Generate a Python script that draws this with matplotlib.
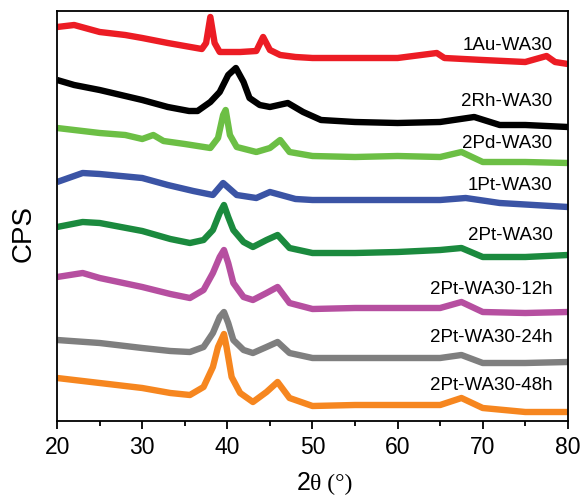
import matplotlib.pyplot as plt
from matplotlib.ticker import MultipleLocator

# XRD-Muster (2θ in Grad, Intensität in willkürlichen Einheiten, bereits versetzt)
au_x = [20, 22, 25, 28, 30, 33, 35, 37, 37.5, 38.0, 38.5, 39.1, 40, 41.5, 43.4, 44.2, 45, 46.2, 48, 50, 55, 60, 64.6, 65.5, 70, 75, 77.5, 78.5, 80]
au_y = [394, 396, 389, 386, 383, 378, 375, 372, 378, 404, 378, 369, 369, 369, 370, 384, 371, 366, 364, 363, 363, 363, 368, 363, 361, 359, 365, 359, 357]

rh_x = [20, 22, 25, 28, 30, 33, 35.5, 36.5, 38, 39.1, 40.1, 41.0, 41.9, 42.6, 43.8, 45, 47.1, 48.9, 51, 55, 60, 65, 69, 72, 75, 80]
rh_y = [341, 336, 331, 325, 321, 314, 310, 310, 319, 329, 346, 353, 339, 323, 316, 314, 318, 309, 301, 299, 298, 299, 304, 296, 296, 294]

pd_x = [20, 22, 25, 28, 30, 31.3, 32.5, 35, 38, 38.9, 39.5, 39.8, 40.3, 41.1, 43.4, 45, 46.2, 47.3, 50, 55, 60, 65, 67.5, 70, 75, 80]
pd_y = [293, 291, 288, 286, 282, 286, 280, 277, 273, 283, 306, 311, 286, 274, 269, 273, 281, 269, 265, 264, 265, 264, 269, 259, 259, 258]

pt1_x = [20, 23, 25, 30, 33, 36, 38.3, 39.5, 41.1, 43.4, 45, 48, 50, 55, 60, 65, 68, 72, 80]
pt1_y = [239, 248, 247, 243, 236, 230, 226, 238, 226, 223, 229, 222, 221, 221, 221, 221, 223, 218, 214]

pt2_x = [20, 23, 25, 30, 33.3, 35.6, 37.2, 38.3, 39.1, 39.6, 40.1, 40.7, 41.9, 43, 44.6, 45.9, 47.3, 50, 55, 60, 65, 67.5, 70, 75, 80]
pt2_y = [194, 199, 198, 190, 182, 178, 181, 191, 208, 216, 204, 191, 179, 174, 181, 186, 173, 168, 168, 169, 171, 173, 164, 164, 166]

h12_x = [20, 23, 25, 30, 33.3, 35.6, 37.2, 38.3, 39.1, 39.6, 40.1, 40.7, 41.9, 43, 44.6, 45.9, 47.3, 50, 55, 60, 65, 67.5, 70, 75, 80]
h12_y = [144, 148, 143, 134, 127, 123, 131, 148, 164, 171, 158, 138, 124, 121, 128, 134, 118, 112, 113, 113, 113, 119, 109, 108, 109]

h24_x = [20, 25, 30, 33.3, 35.6, 37.2, 38.3, 39.1, 39.6, 40.1, 40.7, 41.9, 43, 44.6, 45.9, 47.3, 50, 55, 60, 65, 67.5, 70, 75, 80]
h24_y = [81, 78, 73, 70, 69, 74, 88, 104, 109, 98, 81, 71, 68, 74, 79, 68, 63, 63, 63, 63, 66, 58, 58, 59]

h48_x = [20, 25, 30, 33.3, 35.6, 37.2, 38.3, 38.9, 39.6, 39.9, 40.5, 41.5, 43, 44.6, 45.9, 47.3, 50, 55, 60, 65, 67.5, 70, 75, 80]
h48_y = [43, 38, 33, 28, 26, 34, 54, 74, 87, 74, 44, 28, 19, 29, 39, 23, 15, 16, 16, 16, 23, 13, 9, 9]

namen = ["1Au-WA30", "2Rh-WA30", "2Pd-WA30", "1Pt-WA30", "2Pt-WA30",
         "2Pt-WA30-12h", "2Pt-WA30-24h", "2Pt-WA30-48h"]
farben = ["#ec1c24", "#000000", "#6cbf45", "#3b54a5", "#1b8a3e",
          "#b64fa0", "#7f7f7f", "#f6861f"]
serien = [(au_x, au_y), (rh_x, rh_y), (pd_x, pd_y), (pt1_x, pt1_y),
          (pt2_x, pt2_y), (h12_x, h12_y), (h24_x, h24_y), (h48_x, h48_y)]
label_y = [376, 319, 277, 236, 186, 131, 83, 36]

fig = plt.figure(figsize=(5.83, 5.0), dpi=100)
ax = fig.add_axes([0.098, 0.158, 0.876, 0.82])

for (x, y), farbe in zip(serien, farben):
    ax.plot(x, y, color=farbe, lw=4.6, solid_joinstyle="round", solid_capstyle="butt")

for name, ly in zip(namen, label_y):
    ax.text(78.2, ly, name, ha="right", va="center", fontsize=13.5,
            family="Liberation Sans")

ax.set_xlim(20, 80)
ax.set_ylim(0, 410)
ax.set_yticks([])
ax.xaxis.set_major_locator(MultipleLocator(10))
ax.xaxis.set_minor_locator(MultipleLocator(5))
ax.tick_params(axis="x", which="major", direction="out", length=6, width=1.3,
               labelsize=16.5, pad=5)
ax.tick_params(axis="x", which="minor", direction="out", length=3.5, width=1.3)
for lab in ax.get_xticklabels():
    lab.set_family("Liberation Sans")
for s in ax.spines.values():
    s.set_linewidth(1.3)

# Achsenbeschriftungen
fig.text(0.040, 0.532, "CPS", rotation=90, ha="center", va="center",
         fontsize=20, family="Liberation Sans")
fig.text(0.532, 0.010, "2", ha="right", va="bottom", fontsize=18,
         family="Liberation Sans")
fig.text(0.532, 0.010, "θ (°)", ha="left", va="bottom", fontsize=17,
         family="Liberation Serif")

fig.savefig("out.png", dpi=100)
